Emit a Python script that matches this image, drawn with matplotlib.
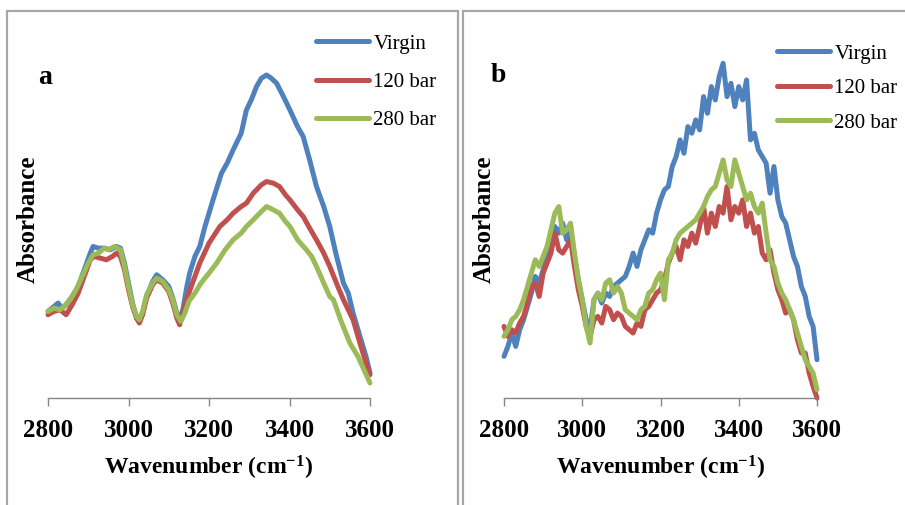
import matplotlib
matplotlib.use("Agg")
import matplotlib.pyplot as plt
from matplotlib.patches import Rectangle

plt.rcParams['font.family'] = ['Liberation Serif', 'DejaVu Serif']
plt.rcParams['mathtext.fontset'] = 'custom'
plt.rcParams['mathtext.rm'] = 'Liberation Serif:bold'
plt.rcParams['mathtext.default'] = 'rm'

series_names = ['Virgin', '120 bar', '280 bar']
colors = ['#4F81BD', '#C0504D', '#9BBB59']

# panel a (smooth spectra), absorbance in arbitrary units
wn_a_virgin = [2800, 2815, 2825, 2835, 2845, 2860, 2875, 2890, 2905, 2912, 2925, 2940, 2955, 2970,
               2980, 2990, 3000, 3010, 3020, 3027, 3035, 3045, 3060, 3070, 3085, 3100, 3110, 3120,
               3127, 3135, 3145, 3152, 3165, 3177, 3190, 3210, 3231, 3245, 3260, 3280, 3293, 3305,
               3318, 3330, 3343, 3355, 3368, 3385, 3401, 3420, 3434, 3450, 3467, 3485, 3500, 3515,
               3534, 3546, 3558, 3575, 3590, 3600]
abs_a_virgin = [.265, .28, .29, .275, .285, .31, .34, .39, .44, .46, .455, .455, .45, .46,
                .455, .41, .35, .29, .245, .235, .26, .31, .355, .375, .36, .34, .305, .26,
                .24, .27, .34, .38, .43, .46, .52, .60, .68, .71, .75, .80, .87, .90,
                .94, .965, .975, .965, .95, .91, .87, .82, .79, .72, .64, .58, .52, .44,
                .35, .32, .26, .19, .13, .08]

wn_a_120 = [2800, 2815, 2830, 2845, 2860, 2875, 2890, 2905, 2915, 2930, 2945, 2960, 2970, 2980,
            2990, 3000, 3010, 3020, 3027, 3035, 3045, 3060, 3070, 3085, 3100, 3110, 3120, 3127,
            3137, 3150, 3165, 3177, 3200, 3227, 3245, 3260, 3280, 3293, 3310, 3318, 3330, 3343,
            3360, 3375, 3390, 3401, 3420, 3434, 3450, 3467, 3485, 3500, 3520, 3534, 3546, 3558,
            3575, 3590, 3600]
abs_a_120 = [.255, .265, .27, .255, .285, .32, .37, .42, .43, .425, .42, .43, .44, .43,
             .39, .33, .28, .245, .23, .255, .305, .345, .36, .35, .325, .29, .245, .225,
             .27, .32, .37, .41, .47, .52, .54, .56, .58, .59, .62, .63, .645, .655,
             .65, .64, .615, .60, .57, .55, .515, .48, .44, .40, .34, .30, .27, .24,
             .17, .11, .075]

wn_a_280 = [2800, 2815, 2830, 2840, 2855, 2870, 2885, 2900, 2912, 2925, 2940, 2950, 2965, 2980,
            2990, 3000, 3010, 3020, 3027, 3035, 3045, 3060, 3070, 3085, 3100, 3110, 3120, 3130,
            3140, 3150, 3165, 3180, 3200, 3219, 3240, 3260, 3280, 3293, 3310, 3326, 3343, 3360,
            3375, 3390, 3401, 3420, 3442, 3455, 3467, 3485, 3500, 3509, 3530, 3550, 3570, 3585,
            3600]
abs_a_280 = [.265, .275, .27, .28, .30, .33, .37, .41, .435, .44, .455, .45, .46, .45,
             .40, .34, .285, .25, .24, .265, .315, .35, .365, .355, .33, .30, .255, .235,
             .26, .295, .32, .35, .38, .41, .45, .48, .50, .52, .54, .56, .58, .57,
             .56, .535, .52, .48, .45, .43, .40, .35, .31, .30, .23, .17, .13, .09,
             .05]

# panel b (noisy spectra), sampled every 10 cm-1 from 2800 to 3600
wn_b = list(range(2800, 3601, 10))
abs_b_virgin = [.13, .16, .20, .16, .21, .24, .28, .32, .37, .35,
                .39, .43, .47, .52, .50, .53, .48, .52, .43, .36,
                .30, .24, .21, .30, .32, .29, .32, .31, .34, .35,
                .36, .37, .40, .44, .40, .45, .48, .51, .50, .56,
                .60, .63, .64, .70, .73, .78, .74, .82, .80, .84,
                .81, .91, .86, .94, .90, .97, 1.01, .91, .95, .88,
                .94, .90, .96, .78, .80, .75, .73, .71, .62, .70,
                .60, .55, .53, .48, .43, .40, .34, .31, .25, .22,
                .12]
abs_b_120 = [.22, .19, .21, .20, .23, .25, .29, .34, .35, .31,
             .38, .41, .44, .50, .45, .44, .46, .48, .40, .33,
             .28, .22, .19, .24, .25, .23, .28, .27, .24, .26,
             .25, .22, .21, .20, .23, .22, .27, .28, .30, .32,
             .33, .36, .41, .44, .46, .42, .48, .46, .50, .47,
             .52, .58, .50, .56, .52, .58, .56, .64, .54, .58,
             .56, .60, .52, .56, .50, .52, .44, .42, .45, .38,
             .33, .30, .26, .27, .24, .18, .14, .14, .08, .04,
             .005]
abs_b_280 = [.19, .21, .24, .25, .27, .30, .34, .38, .42, .40,
             .43, .46, .51, .56, .58, .50, .51, .53, .44, .36,
             .30, .22, .17, .30, .32, .30, .35, .36, .32, .34,
             .32, .27, .26, .25, .24, .27, .28, .32, .33, .36,
             .38, .30, .42, .44, .48, .50, .51, .52, .53, .54,
             .56, .58, .61, .63, .64, .68, .72, .66, .64, .72,
             .68, .64, .60, .62, .58, .56, .59, .50, .42, .40,
             .35, .32, .30, .27, .24, .20, .16, .12, .10, .08,
             .03]

xticks = [2800, 3000, 3200, 3400, 3600]

W, H = 905, 505
fig = plt.figure(figsize=(W / 100, H / 100), dpi=100)

# panel frames
frame_kw = dict(transform=fig.transFigure, fill=False, edgecolor='#a6a6a6', linewidth=1.6)
fig.patches.append(Rectangle((7 / W, -0.05), 451 / W, 1.05 - 11 / H, **frame_kw))
fig.patches.append(Rectangle((463 / W, -0.05), 460 / W, 1.05 - 11 / H, **frame_kw))


def make_panel(left_px, right_px, letter, letter_xy, legend_xy, spacing, spectra):
    ax = fig.add_axes([left_px / W, (H - 398) / H, (right_px - left_px) / W, 358 / H])
    for (x, y), name, c in zip(spectra, series_names, colors):
        ax.plot(x, y, color=c, lw=3.6, label=name, clip_on=False, solid_capstyle='round')
    ax.set_xlim(2800, 3600)
    ax.set_ylim(0.005, 1.08)
    for s in ['left', 'top', 'right']:
        ax.spines[s].set_visible(False)
    ax.spines['bottom'].set_color('#868686')
    ax.spines['bottom'].set_linewidth(1.0)
    ax.set_yticks([])
    ax.set_xticks(xticks)
    ax.tick_params(axis='x', direction='out', length=6, width=1.0, color='#868686',
                   labelsize=18, pad=9)
    for t in ax.get_xticklabels():
        t.set_fontweight('bold')
    ax.set_xlabel('Wavenumber (cm$^{-1}$)', fontsize=17, fontweight='bold', labelpad=9)
    ax.set_ylabel('Absorbance', fontsize=18, fontweight='bold')
    ax.yaxis.label.set_va('center')
    ax.yaxis.set_label_coords(-20 / (right_px - left_px), 0.5)
    fig.text(letter_xy[0] / W, 1 - letter_xy[1] / H, letter, fontsize=20, fontweight='bold',
             ha='center', va='center')
    ax.legend(loc='upper left', bbox_to_anchor=(legend_xy[0] / W, 1 - legend_xy[1] / H),
              bbox_transform=fig.transFigure, frameon=False, fontsize=15,
              handlelength=2.55, handletextpad=0.2, labelspacing=spacing, borderpad=0,
              borderaxespad=0)
    return ax


make_panel(48, 370, 'a', (45, 78), (316, 34), 0.9,
           [(wn_a_virgin, abs_a_virgin), (wn_a_120, abs_a_120), (wn_a_280, abs_a_280)])
make_panel(504, 817, 'b', (498, 76), (777, 44), 0.72,
           [(wn_b, abs_b_virgin), (wn_b, abs_b_120), (wn_b, abs_b_280)])

fig.savefig('out.png', dpi=100)
